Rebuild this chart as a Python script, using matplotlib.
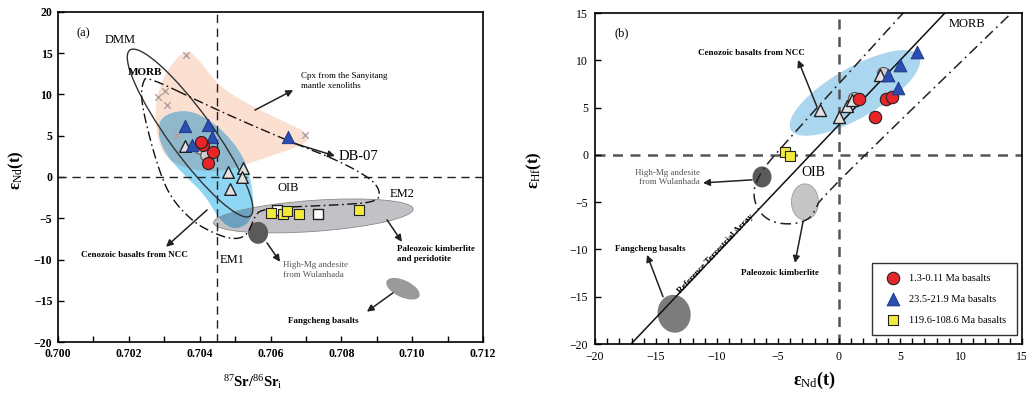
import numpy as np
import matplotlib
matplotlib.use('agg')
import matplotlib.pyplot as plt
from matplotlib.patches import Polygon, Ellipse
from matplotlib.transforms import ScaledTranslation
from matplotlib.ticker import MultipleLocator, FormatStrFormatter

plt.rcParams['font.family'] = ['Liberation Serif', 'DejaVu Serif']
plt.rcParams['mathtext.fontset'] = 'custom'
plt.rcParams['mathtext.rm'] = 'Liberation Serif'
plt.rcParams['mathtext.it'] = 'Liberation Serif:italic'
plt.rcParams['mathtext.bf'] = 'Liberation Serif:bold'

# ---------------- (a) Sr-Nd ----------------
sr_red = [0.70410, 0.70438, 0.70424, 0.70404]
nd_red = [3.9, 3.0, 1.7, 4.2]
sr_blue = [0.70359, 0.70424, 0.70435, 0.70379, 0.70650]
nd_blue = [6.2, 6.3, 4.8, 3.9, 4.8]
sr_yel = [0.70602, 0.70636, 0.70647, 0.70681, 0.70850]
nd_yel = [-4.35, -4.5, -4.1, -4.5, -4.0]
sr_opensq = [0.70619, 0.70734]
nd_opensq = [-4.0, -4.5]
sr_ncc = [0.70359, 0.70480, 0.70522, 0.70520, 0.70486]
nd_ncc = [3.8, 0.6, 1.1, 0.0, -1.4]
sr_grey = [0.70400, 0.70418]
nd_grey = [3.5, 2.6]
sr_cpx = [0.70362, 0.70302, 0.70282, 0.70308, 0.70698, 0.70336]
nd_cpx = [14.75, 10.4, 9.7, 8.7, 5.1, 5.1]

# field outlines
cpx_sr = [0.70364, 0.70401, 0.70457, 0.70542, 0.70641, 0.70703, 0.70706, 0.70655,
          0.70570, 0.70486, 0.70415, 0.70330, 0.70288, 0.70274, 0.70280, 0.70316]
cpx_nd = [15.6, 14.0, 10.9, 8.7, 6.65, 5.44, 4.2, 3.3, 2.1, 0.85, 0.6, 1.45, 3.3, 6.9, 10.3, 13.5]
ncc_sr = [0.70290, 0.70364, 0.70429, 0.70486, 0.70528, 0.70548, 0.70553, 0.70536,
          0.70491, 0.70452, 0.70415, 0.70355, 0.70305, 0.70282]
ncc_nd = [7.4, 8.2, 6.9, 4.7, 2.06, -0.97, -4.0, -5.8, -6.4, -4.96, -2.18, 0.3, 2.66, 5.08]
env_sr = [0.70251, 0.70449, 0.70664, 0.70788, 0.70881, 0.70909, 0.70904, 0.70796, 0.70576,
          0.70553, 0.70542, 0.70522, 0.70486, 0.70438, 0.70381, 0.70316, 0.70280, 0.70246,
          0.70234, 0.70240]
env_nd = [12.21, 8.10, 4.11, 2.06, -0.12, -1.57, -3.02, -3.39, -3.75, -4.96, -6.41, -7.38,
          -7.5, -6.77, -5.44, -2.42, 1.45, 6.89, 9.92, 11.49]

# ---------------- (b) Nd-Hf ----------------
nd_red_b = [1.64, 3.85, 4.34, 2.95]
hf_red_b = [5.92, 5.92, 6.13, 4.02]
nd_blue_b = [6.39, 5.0, 4.02, 4.84]
hf_blue_b = [10.9, 9.5, 8.46, 7.08]
nd_ncc_b = [-1.56, 0.0, 0.66, 1.07, 3.36]
hf_ncc_b = [4.76, 4.02, 5.18, 5.81, 8.46]
nd_grey_b = [1.2, 3.6]
hf_grey_b = [6.0, 8.7]
nd_yel_b = [-4.4, -4.0]
hf_yel_b = [0.3, -0.1]

# terrestrial array: eHf = 1.36 eNd + 3.19
tarray_slope = 1.36
tarray_icept = 3.19
mantle_nd = [5.4, -5.1, -6.5, -7.05, -6.8, -5.9, -4.3, -2.6, -1.9, -1.56, 14.3]
mantle_hf = [15.2, 0.3, -2.0, -3.8, -5.5, -6.9, -7.4, -7.0, -5.8, -4.6, 15.2]


def chaikin(pts, n=3, closed=True):
    p = np.asarray(pts, float)
    for _ in range(n):
        if closed:
            a, q = p, np.roll(p, -1, axis=0)
        else:
            a, q = p[:-1], p[1:]
        new = np.empty((2 * len(a), 2))
        new[0::2] = 0.75 * a + 0.25 * q
        new[1::2] = 0.25 * a + 0.75 * q
        if not closed:
            new = np.vstack([p[0], new, p[-1]])
        p = new
    return p


def blob(ax, x, y, w, h, angle=0, **kw):
    # ellipse sized in inches, centred on a data point
    tr = ax.figure.dpi_scale_trans + ScaledTranslation(x, y, ax.transData)
    e = Ellipse((0, 0), w, h, angle=angle, transform=tr, **kw)
    ax.add_patch(e)
    return e


def arrow(ax, tail, head):
    ax.annotate('', xy=head, xytext=tail,
                arrowprops=dict(arrowstyle='-|>', lw=1.1, color='#222222',
                                mutation_scale=10, shrinkA=0, shrinkB=0))


fig = plt.figure(figsize=(10.26, 3.95), dpi=100)
ax1 = fig.add_axes([0.0565, 0.134, 0.4143, 0.836])
ax2 = fig.add_axes([0.580, 0.129, 0.416, 0.838])

# ---------- panel a ----------
ax1.set_xlim(0.700, 0.712)
ax1.set_ylim(-20, 20)

pink = Polygon(chaikin(np.c_[cpx_sr, cpx_nd]), closed=True, fc='#fbe0d2', ec='none', zorder=1)
ax1.add_patch(pink)
blue_pts = chaikin(np.c_[ncc_sr, ncc_nd])
ax1.add_patch(Polygon(blue_pts, closed=True, fc='#8ed6f4', ec='none', zorder=1.1))
over = Polygon(blue_pts, closed=True, fc='#8fb8cc', ec='none', zorder=1.2)
ax1.add_patch(over)
over.set_clip_path(pink)
kimb = blob(ax1, 0.70721, -4.72, 2.0, 0.31, angle=4, fc='#c2c2c6', ec='#8a8a8a', lw=0.6, zorder=1.3)
over2 = Polygon(blue_pts, closed=True, fc='#6d9fbe', ec='none', zorder=1.4)
ax1.add_patch(over2)
over2.set_clip_path(kimb)
blob(ax1, 0.70565, -6.77, 0.20, 0.22, fc='#5a5a5a', ec='none', zorder=1.5)
blob(ax1, 0.70974, -13.54, 0.36, 0.17, angle=-25, fc='#9a9a9a', ec='none', zorder=1.5)

# MORB field and mantle array envelope
blob(ax1, 0.70373, 5.32, 2.05, 0.44, angle=-54, fc='none', ec='#333333', lw=1.0, zorder=2)
env = chaikin(np.c_[env_sr, env_nd], n=3)
env = np.vstack([env, env[:1]])
ax1.plot(env[:, 0], env[:, 1], color='#111111', lw=1.0, ls=(0, (7, 2.5, 1.2, 2.5)), zorder=2)

ax1.axvline(0.7045, color='#222222', lw=1.0, ls=(0, (6, 4)), zorder=1.8)
ax1.axhline(0, color='#222222', lw=1.0, ls=(0, (6, 4)), zorder=1.8)

ax1.scatter(sr_cpx, nd_cpx, marker='x', s=22, color='#b0a0a0', lw=1.0, zorder=3)
ax1.scatter(sr_ncc, nd_ncc, marker='^', s=70, fc='#e2e2e2', ec='#222222', lw=1.0, zorder=3)
ax1.scatter(sr_grey, nd_grey, marker='o', s=70, fc='#cfcfcf', ec='#555555', lw=0.8, zorder=3)
ax1.scatter(sr_opensq, nd_opensq, marker='s', s=55, fc='white', ec='#222222', lw=1.0, zorder=3)
ax1.scatter(sr_blue, nd_blue, marker='^', s=80, fc='#2a4fb0', ec='#1a2f80', lw=0.6, zorder=4)
ax1.scatter(sr_red, nd_red, marker='o', s=75, fc='#e8262a', ec='#222222', lw=0.8, zorder=4)
ax1.scatter(sr_yel, nd_yel, marker='s', s=55, fc='#f3ea3c', ec='#222222', lw=0.8, zorder=4)

arrow(ax1, (0.70556, 8.1), (0.70664, 10.52))
arrow(ax1, (0.70655, 4.23), (0.70782, 2.54))
arrow(ax1, (0.70421, -3.99), (0.70305, -8.46))
arrow(ax1, (0.70590, -7.98), (0.70627, -10.28))
arrow(ax1, (0.70929, -5.2), (0.70971, -7.86))
arrow(ax1, (0.70946, -14.03), (0.70872, -16.32))

ax1.text(0.70071, 17.4, '(a)', fontsize=9, ha='center', va='center')
ax1.text(0.70175, 16.57, 'DMM', fontsize=9, ha='center', va='center')
ax1.text(0.70246, 12.7, 'MORB', fontsize=8, ha='center', va='center', weight='bold')
ax1.text(0.70649, -1.33, 'OIB', fontsize=9, ha='center', va='center')
ax1.text(0.70971, -2.06, 'EM2', fontsize=9, ha='center', va='center')
ax1.text(0.70491, -10.04, 'EM1', fontsize=9, ha='center', va='center')
ax1.text(0.70791, 2.42, 'DB-07', fontsize=10.5, ha='left', va='center')
ax1.text(0.70685, 11.6, 'Cpx from the Sanyitang\nmantle xenoliths', fontsize=6.5,
         ha='left', va='center', linespacing=1.3)
ax1.text(0.70217, -9.43, 'Cenozoic basalts from NCC', fontsize=6.5, ha='center',
         va='center', weight='bold')
ax1.text(0.70635, -10.2, 'High-Mg andesite\nfrom Wulanhada', fontsize=6.5, ha='left',
         va='top', color='#555555', linespacing=1.3)
ax1.text(0.70957, -8.3, 'Paleozoic kimberlite\nand peridotite', fontsize=6.5, ha='left',
         va='top', weight='bold', linespacing=1.3)
ax1.text(0.70748, -17.41, 'Fangcheng basalts', fontsize=6.5, ha='center', va='center',
         weight='bold')

ax1.xaxis.set_major_locator(MultipleLocator(0.002))
ax1.xaxis.set_minor_locator(MultipleLocator(0.001))
ax1.xaxis.set_major_formatter(FormatStrFormatter('%.3f'))
ax1.yaxis.set_major_locator(MultipleLocator(5))
ax1.tick_params(which='both', direction='in', length=4, width=1, labelsize=8.5, pad=4)
for lab in ax1.get_xticklabels() + ax1.get_yticklabels():
    lab.set_fontweight('bold')
ax1.set_xlabel(r'$^{87}$Sr/$^{86}$Sr$_{\rm i}$', fontsize=10.5, weight='bold')
ax1.xaxis.set_label_coords(0.459, -0.093)
ax1.set_ylabel(r'ε$_{\rm Nd}$(t)', fontsize=12, weight='bold')
ax1.yaxis.set_label_coords(-0.075, 0.52)

# ---------- panel b ----------
ax2.set_xlim(-20, 15)
ax2.set_ylim(-20, 15)

blob(ax2, 1.31, 6.55, 1.48, 0.50, angle=30, fc='#aad6f0', ec='none', zorder=1)
blob(ax2, -6.31, -2.33, 0.19, 0.21, fc='#5a5a5a', ec='none', zorder=1.5)
blob(ax2, -2.79, -4.97, 0.27, 0.36, fc='#c6c6c6', ec='#9a9a9a', lw=0.6, zorder=1.5)
blob(ax2, -13.52, -16.8, 0.33, 0.38, angle=10, fc='#7c7c7c', ec='none', zorder=1.5)

ax2.axvline(0, color='#555555', lw=1.8, ls=(0, (4, 3)), zorder=1.2)
ax2.axhline(0, color='#555555', lw=1.8, ls=(0, (4, 3)), zorder=1.2)

hf_end = np.array([-20, 15])
ax2.plot((hf_end - tarray_icept) / tarray_slope, hf_end, color='#111111', lw=1.1, zorder=2)
mant = chaikin(np.c_[mantle_nd, mantle_hf], n=3, closed=False)
ax2.plot(mant[:, 0], mant[:, 1], color='#222222', lw=1.1, ls=(0, (7, 3, 1.2, 3)), zorder=2)

ax2.scatter(nd_grey_b, hf_grey_b, marker='o', s=75, fc='#cfcfcf', ec='#555555', lw=0.8, zorder=3)
ax2.scatter(nd_ncc_b, hf_ncc_b, marker='^', s=75, fc='#e2e2e2', ec='#222222', lw=1.0, zorder=3)
h_red = ax2.scatter(nd_red_b, hf_red_b, marker='o', s=80, fc='#e8262a', ec='#222222', lw=0.8, zorder=4)
h_blue = ax2.scatter(nd_blue_b, hf_blue_b, marker='^', s=85, fc='#2a4fb0', ec='#1a2f80', lw=0.6, zorder=4)
h_yel = ax2.scatter(nd_yel_b, hf_yel_b, marker='s', s=55, fc='#f3ea3c', ec='#222222', lw=0.8, zorder=4)

arrow(ax2, (-1.8, 5.07), (-3.36, 10.04))
arrow(ax2, (-7.13, -2.64), (-11.15, -2.96))
arrow(ax2, (-2.95, -7.08), (-3.61, -11.42))
arrow(ax2, (-14.43, -15.0), (-15.74, -10.57))

ax2.text(-17.79, 12.9, '(b)', fontsize=9, ha='center', va='center')
ax2.text(-7.21, 10.78, 'Cenozoic basalts from NCC', fontsize=6.5, ha='center',
         va='center', weight='bold')
ax2.text(-11.39, -2.38, 'High-Mg andesite\nfrom Wulanhada', fontsize=6.5, ha='right',
         va='center', color='#555555', linespacing=1.3)
ax2.text(-2.13, -1.9, 'OIB', fontsize=10, ha='center', va='center')
ax2.text(-4.84, -12.47, 'Paleozoic kimberlite', fontsize=6.5, ha='center', va='center',
         weight='bold')
ax2.text(-15.49, -9.94, 'Fangcheng basalts', fontsize=6.5, ha='center', va='center',
         weight='bold')
ax2.text(10.49, 13.85, 'MORB', fontsize=9, ha='center', va='center')
ax2.text(-10.1, -10.5, 'Reference Terrestrial Array', fontsize=6.5, ha='center',
         va='center', rotation=46.5, rotation_mode='anchor', weight='bold')

ax2.xaxis.set_major_locator(MultipleLocator(5))
ax2.xaxis.set_minor_locator(MultipleLocator(1))
ax2.yaxis.set_major_locator(MultipleLocator(5))
ax2.tick_params(which='both', direction='in', length=4, width=1, labelsize=8.5, pad=5)
ax2.set_xlabel(r'ε$_{\rm Nd}$(t)', fontsize=13, weight='bold')
ax2.xaxis.set_label_coords(0.513, -0.078)
ax2.set_ylabel(r'ε$_{\rm Hf}$(t)', fontsize=12, weight='bold')
ax2.yaxis.set_label_coords(-0.12, 0.526)

leg = ax2.legend([h_red, h_blue, h_yel],
                 ['1.3-0.11 Ma basalts', '23.5-21.9 Ma basalts', '119.6-108.6 Ma basalts'],
                 loc='lower right', bbox_to_anchor=(0.988, 0.027), borderaxespad=0,
                 fontsize=7.5, frameon=True, fancybox=False, edgecolor='black',
                 borderpad=1.0, labelspacing=1.1, handletextpad=0.6, scatterpoints=1)
leg.get_frame().set_linewidth(1.0)

for ax in (ax1, ax2):
    for s in ax.spines.values():
        s.set_linewidth(1.2)

fig.savefig('out.png', dpi=100)
